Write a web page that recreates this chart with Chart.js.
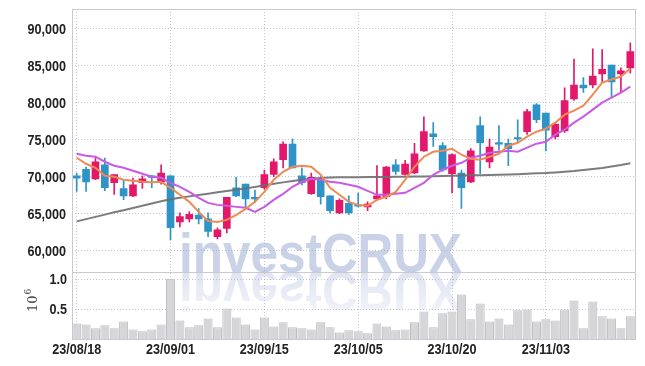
<!DOCTYPE html>
<html>
<head>
<meta charset="utf-8">
<script src="https://cdn.jsdelivr.net/npm/chart.js@4.4.0/dist/chart.umd.min.js"></script>
<style>
  body { margin: 0; background: #fff; }
  canvas { display: block; }
</style>
</head>
<body>
<canvas id="stockChart" width="645" height="366"></canvas>
<script>
// trading days shown on the chart
const dates = [
  '23/08/18', '23/08/21', '23/08/22', '23/08/23', '23/08/24', '23/08/25', '23/08/28', '23/08/29', '23/08/30', '23/08/31',
  '23/09/01', '23/09/04', '23/09/05', '23/09/06', '23/09/07', '23/09/08', '23/09/11', '23/09/12', '23/09/13', '23/09/14',
  '23/09/15', '23/09/18', '23/09/19', '23/09/20', '23/09/21', '23/09/22', '23/09/25', '23/09/26', '23/09/27', '23/10/04',
  '23/10/05', '23/10/06', '23/10/10', '23/10/11', '23/10/12', '23/10/13', '23/10/16', '23/10/17', '23/10/18', '23/10/19',
  '23/10/20', '23/10/23', '23/10/24', '23/10/25', '23/10/26', '23/10/27', '23/10/30', '23/10/31', '23/11/01', '23/11/02',
  '23/11/03', '23/11/06', '23/11/07', '23/11/08', '23/11/09', '23/11/10', '23/11/13', '23/11/14', '23/11/15', '23/11/16'
];
const tickDates = ['23/08/18', '23/09/01', '23/09/15', '23/10/05', '23/10/20', '23/11/03'];
const priceTicks = [60000, 65000, 70000, 75000, 80000, 85000, 90000];
const volumeTicks = [500000, 1000000];

const opens = [
  70100, 71000, 69700, 71600, 69200, 68400, 67400, 69200, 70100, 69300,
  70100, 63900, 64300, 64800, 64300, 61900, 63000, 68500, 69000, 67200,
  68500, 70300, 72300, 74400, 70100, 67700, 69600, 67400, 65100, 66400,
  66200, 65900, 67000, 67300, 71600, 70300, 70500, 73500, 75800, 74200,
  70400, 70500, 69300, 76900, 72000, 74600, 74500, 75300, 76100, 79700,
  78600, 75400, 76200, 80500, 82400, 82400, 83900, 85100, 83900, 84700
];
const highs = [
  70500, 71300, 72600, 72500, 70300, 69600, 69800, 70100, 70200, 71600,
  70100, 65100, 65300, 65700, 65100, 63100, 67200, 69900, 69000, 68200,
  70900, 72400, 74700, 75100, 71200, 70500, 70000, 67400, 67000, 67400,
  67800, 66600, 71500, 71400, 72300, 72200, 74500, 78100, 77300, 74600,
  73100, 70900, 73800, 78100, 75100, 76900, 75100, 77700, 79100, 79900,
  78600, 77200, 82000, 85900, 83400, 87300, 87200, 85100, 84700, 88100
];
const lows = [
  68000, 68000, 69600, 68100, 67600, 66900, 67300, 68400, 68500, 69000,
  61500, 63200, 63900, 63600, 61900, 61600, 62400, 67300, 65900, 66500,
  68300, 70000, 71200, 71200, 68900, 67600, 66300, 65100, 65000, 64900,
  65900, 65400, 66800, 67000, 70300, 70200, 70400, 73400, 74100, 70700,
  67800, 65700, 69200, 70400, 71200, 73600, 71500, 74600, 75700, 77300,
  73500, 75100, 76000, 80300, 81400, 82000, 82800, 80700, 81500, 84000
];
const closes = [
  69800, 69300, 72000, 68500, 70300, 67400, 68900, 69700, 69900, 70500,
  63100, 64600, 64900, 64300, 62600, 62800, 67200, 67400, 67000, 67000,
  70300, 72000, 74400, 71200, 69200, 69900, 67300, 65400, 66800, 65100,
  66000, 66300, 67400, 71300, 70700, 71700, 73100, 76100, 75400, 70900,
  73000, 68500, 73500, 74600, 74000, 74400, 73800, 75100, 78800, 77700,
  76300, 77100, 80300, 82400, 82000, 83600, 84500, 82800, 84300, 86900
];
const volumes = [
  260000, 245000, 180000, 230000, 180000, 295000, 160000, 130000, 160000, 245000,
  1010000, 310000, 195000, 230000, 345000, 195000, 510000, 360000, 245000, 160000,
  360000, 210000, 280000, 195000, 180000, 160000, 280000, 195000, 110000, 145000,
  130000, 95000, 260000, 210000, 145000, 160000, 280000, 460000, 195000, 430000,
  460000, 745000, 330000, 595000, 295000, 345000, 245000, 480000, 495000, 295000,
  330000, 310000, 495000, 645000, 180000, 630000, 380000, 345000, 180000, 380000
];

// moving averages
const ma5 = [
  72560, 71750, 71210, 70120, 69990, 69580, 69440, 69310, 69240, 69310,
  68500, 67550, 66600, 65240, 64020, 63890, 64160, 64840, 65650, 66600,
  67950, 69580, 70660, 71340, 71480, 71340, 70260, 68500, 67550, 66600,
  66190, 66060, 66870, 67280, 67950, 69580, 71340, 72700, 73370, 73510,
  73780, 72970, 72430, 72290, 72700, 73100, 74190, 74590, 75410, 76080,
  76490, 77300, 78390, 78930, 79610, 81100, 82720, 83130, 83540, 84620
];
const ma10 = [
  73100, 72830, 72700, 72020, 71480, 71210, 70800, 70390, 69990, 69850,
  69170, 68630, 67950, 67140, 66460, 66190, 66060, 65920, 65790, 65240,
  65920, 66870, 67680, 68630, 69310, 69720, 69580, 69310, 69170, 68900,
  68630, 68090, 67550, 67550, 67680, 67820, 68500, 69170, 70260, 70940,
  71480, 71880, 72560, 72830, 73240, 73370, 73510, 73370, 73920, 74460,
  74730, 75680, 76350, 77300, 78120, 79060, 80010, 80690, 81370, 82180
];
const ma60 = [
  63960, 64260, 64570, 64870, 65180, 65470, 65780, 66080, 66380, 66680,
  66960, 67150, 67340, 67530, 67700, 67890, 68070, 68240, 68420, 68600,
  68850, 69040, 69230, 69420, 69600, 69730, 69820, 69880, 69910, 69920,
  69930, 69950, 69960, 69970, 69990, 70000, 70010, 70040, 70070, 70090,
  70120, 70150, 70180, 70200, 70230, 70260, 70300, 70340, 70390, 70450,
  70500, 70580, 70680, 70780, 70910, 71040, 71190, 71370, 71570, 71820
];

const RED = '#e3186b';
const BLUE = '#2e93c7';
const GRID = '#c3c6d8';
const TEXT = '#222';

const candleColors = opens.map((o, i) => (closes[i] >= o ? RED : BLUE));

// big faded logo with its mirror image under the price panel
const watermark = {
  id: 'watermark',
  beforeDatasetsDraw(chart) {
    const ctx = chart.ctx;
    const base = chart.scales.y.bottom;
    ctx.save();
    ctx.font = "bold 55px 'Liberation Sans', sans-serif";
    const w = ctx.measureText('investCRUX').width;
    ctx.translate(179, base);
    ctx.scale(283 / w, 1);
    ctx.fillStyle = 'rgba(150, 165, 210, 0.5)';
    ctx.fillText('investCRUX', 0, 0);
    ctx.scale(1, -1);
    const g = ctx.createLinearGradient(0, 0, 0, -42);
    g.addColorStop(0, 'rgba(150, 165, 210, 0.3)');
    g.addColorStop(1, 'rgba(150, 165, 210, 0.12)');
    ctx.fillStyle = g;
    ctx.fillText('investCRUX', 0, 0);
    ctx.restore();
  }
};

// narrow bold tick text, like the original condensed font
function narrowText(ctx, text, x, y, align, baseline) {
  ctx.save();
  ctx.translate(x, y);
  ctx.scale(0.84, 1);
  ctx.textAlign = align;
  ctx.textBaseline = baseline;
  ctx.fillText(text, 0, 0);
  ctx.restore();
}

// frame, tick labels and the 10^6 unit label
const frame = {
  id: 'frame',
  afterDraw(chart) {
    const ctx = chart.ctx;
    const a = chart.chartArea;
    const {x, y, yv} = chart.scales;
    const sep = Math.round(y.bottom) + 0.5;
    ctx.save();
    ctx.strokeStyle = '#c9c9cf';
    ctx.lineWidth = 1;
    ctx.strokeRect(Math.round(a.left) + 0.5, Math.round(a.top) + 0.5, Math.round(a.right - a.left), Math.round(a.bottom - a.top));
    ctx.beginPath();
    ctx.moveTo(a.left, sep);
    ctx.lineTo(a.right, sep);
    ctx.stroke();

    ctx.fillStyle = TEXT;
    ctx.font = "bold 15px 'Liberation Sans', sans-serif";
    y.ticks.forEach(t => {
      narrowText(ctx, t.value.toLocaleString('en-US'), a.left - 6, y.getPixelForValue(t.value) + 1, 'right', 'middle');
    });
    yv.ticks.forEach(t => {
      narrowText(ctx, (t.value / 1e6).toFixed(1), a.left - 5, yv.getPixelForValue(t.value) + 1, 'right', 'middle');
    });
    x.ticks.forEach((t, i) => {
      narrowText(ctx, dates[t.value], x.getPixelForTick(i), a.bottom + 3, 'center', 'top');
    });

    ctx.translate(37, 312);
    ctx.rotate(-Math.PI / 2);
    ctx.fillStyle = '#444';
    ctx.font = "13px 'DejaVu Serif', serif";
    ctx.textAlign = 'left';
    ctx.textBaseline = 'alphabetic';
    ctx.fillText('10', 0, 0);
    const w = ctx.measureText('10').width;
    ctx.font = "9px 'DejaVu Serif', serif";
    ctx.fillText('6', w + 1, -6);
    ctx.restore();
  }
};

document.addEventListener('DOMContentLoaded', function () {
  const ctx = document.getElementById('stockChart').getContext('2d');

  new Chart(ctx, {
    data: {
      labels: dates,
      datasets: [
        {
          type: 'line', label: 'MA5', data: ma5, yAxisID: 'y', order: 0,
          borderColor: '#f08a55', borderWidth: 2, pointRadius: 0, tension: 0
        },
        {
          type: 'line', label: 'MA10', data: ma10, yAxisID: 'y', order: 0,
          borderColor: '#c95ae6', borderWidth: 2, pointRadius: 0, tension: 0
        },
        {
          type: 'line', label: 'MA60', data: ma60, yAxisID: 'y', order: 0,
          borderColor: 'rgba(110, 110, 110, 0.9)', borderWidth: 2, pointRadius: 0, tension: 0
        },
        {
          type: 'bar', label: 'body', yAxisID: 'y', order: 1, grouped: false,
          data: opens.map((o, i) => [o, closes[i]]),
          backgroundColor: candleColors, barThickness: 7, minBarLength: 1
        },
        {
          type: 'bar', label: 'wick', yAxisID: 'y', order: 2, grouped: false,
          data: lows.map((l, i) => [l, highs[i]]),
          backgroundColor: candleColors, barThickness: 1
        },
        {
          type: 'bar', label: 'volume', yAxisID: 'yv', order: 3, grouped: false,
          data: volumes,
          backgroundColor: '#d6d6d8', borderColor: '#bdbdc2', borderWidth: 1,
          barPercentage: 0.96, categoryPercentage: 1
        }
      ]
    },
    options: {
      responsive: false,
      animation: false,
      layout: { padding: { top: 9, right: 10, left: 0, bottom: 0 } },
      plugins: { legend: { display: false }, tooltip: { enabled: false } },
      scales: {
        x: {
          type: 'category',
          offset: true,
          grid: { offset: false, color: GRID, drawTicks: false },
          border: { display: false, dash: [1, 2] },
          ticks: { display: false, autoSkip: false },
          afterBuildTicks: axis => {
            axis.ticks = axis.ticks.filter(t => tickDates.includes(dates[t.value]));
          },
          afterFit: axis => { axis.height = 27; }
        },
        yv: {
          type: 'linear', position: 'left', stack: 'panels', stackWeight: 1,
          min: 0, max: 1117000,
          grid: { color: GRID, drawTicks: false },
          border: { display: false, dash: [1, 2] },
          ticks: { display: false },
          afterBuildTicks: axis => { axis.ticks = volumeTicks.map(v => ({ value: v })); },
          afterFit: axis => { axis.width = 72; }
        },
        y: {
          type: 'linear', position: 'left', stack: 'panels', stackWeight: 3.95,
          min: 57070, max: 92670,
          grid: { color: GRID, drawTicks: false },
          border: { display: false, dash: [1, 2] },
          ticks: { display: false },
          afterBuildTicks: axis => { axis.ticks = priceTicks.map(v => ({ value: v })); },
          afterFit: axis => { axis.width = 72; }
        }
      }
    },
    plugins: [watermark, frame]
  });
});
</script>
</body>
</html>
